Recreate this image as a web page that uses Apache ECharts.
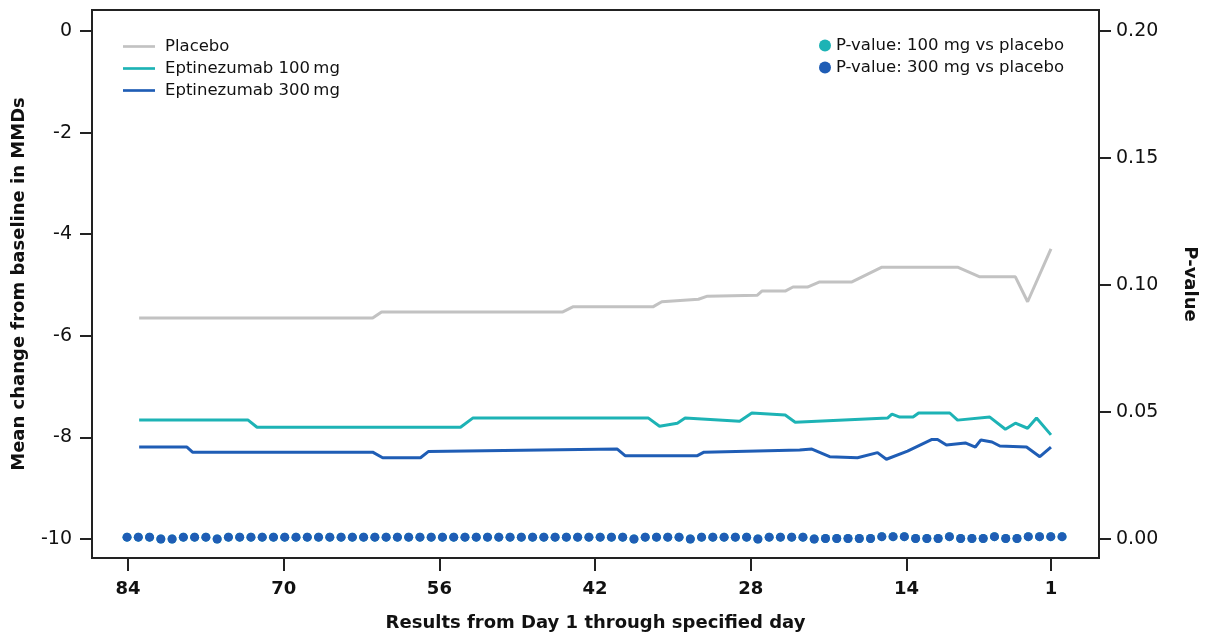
<!DOCTYPE html>
<html>
<head>
<meta charset="utf-8">
<script src="https://cdn.jsdelivr.net/npm/echarts@6/dist/echarts.min.js"></script>
<style>
  html, body { margin: 0; padding: 0; background: #fff; }
  #main { width: 1206px; height: 638px; }
</style>
</head>
<body>
<div id="main"></div>
<script>
// day on x axis, mean change in MMDs on left axis
var placeboDays = [83, 62, 61.2, 44.9, 44, 36.8, 36, 32.7, 31.9, 27.4, 27, 24.9, 24.2, 22.9, 21.8, 18.9, 16.2, 9.4, 7.4, 4.2, 3.1, 1];
var placeboVals = [-5.65, -5.65, -5.53, -5.53, -5.43, -5.43, -5.33, -5.28, -5.22, -5.2, -5.12, -5.12, -5.04, -5.04, -4.94, -4.94, -4.65, -4.65, -4.84, -4.84, -5.33, -4.29];

var mg100Days = [83, 73.2, 72.4, 54.1, 53, 37.2, 36.2, 34.6, 33.9, 29, 27.9, 24.9, 24, 15.7, 15.3, 14.6, 13.4, 12.9, 10.1, 9.4, 6.5, 5.1, 4.2, 3.1, 2.3, 1];
var mg100Vals = [-7.66, -7.66, -7.8, -7.8, -7.62, -7.62, -7.78, -7.72, -7.62, -7.68, -7.52, -7.56, -7.7, -7.62, -7.54, -7.6, -7.6, -7.52, -7.52, -7.66, -7.6, -7.84, -7.72, -7.82, -7.62, -7.95];

var mg300Days = [83, 78.7, 78.2, 62, 61.1, 57.7, 57, 40, 39.3, 32.8, 32.2, 23.6, 22.5, 20.9, 18.4, 16.6, 15.8, 13.9, 11.7, 11.2, 10.4, 8.7, 7.8, 7.3, 6.3, 5.6, 3.2, 2, 1];
var mg300Vals = [-8.19, -8.19, -8.29, -8.29, -8.4, -8.4, -8.28, -8.23, -8.36, -8.36, -8.29, -8.25, -8.23, -8.38, -8.4, -8.3, -8.43, -8.27, -8.04, -8.04, -8.15, -8.11, -8.19, -8.05, -8.09, -8.17, -8.19, -8.38, -8.19];

// p-values, day 84 down to day 1
var pDays = [84, 83, 82, 81, 80, 79, 78, 77, 76, 75, 74, 73, 72, 71, 70, 69, 68, 67, 66, 65, 64, 63, 62, 61, 60, 59, 58, 57, 56, 55, 54, 53, 52, 51, 50, 49, 48, 47, 46, 45, 44, 43, 42, 41, 40, 39, 38, 37, 36, 35, 34, 33, 32, 31, 30, 29, 28, 27, 26, 25, 24, 23, 22, 21, 20, 19, 18, 17, 16, 15, 14, 13, 12, 11, 10, 9, 8, 7, 6, 5, 4, 3, 2, 1];
var p100 = [0.0007, 0.0007, 0.0007, 0, 0, 0.0007, 0.0007, 0.0007, 0, 0.0007, 0.0007, 0.0007, 0.0007, 0.0007, 0.0007, 0.0007, 0.0007, 0.0007, 0.0007, 0.0007, 0.0007, 0.0007, 0.0007, 0.0007, 0.0007, 0.0007, 0.0007, 0.0007, 0.0007, 0.0007, 0.0007, 0.0007, 0.0007, 0.0007, 0.0007, 0.0007, 0.0007, 0.0007, 0.0007, 0.0007, 0.0007, 0.0007, 0.0007, 0.0007, 0.0007, 0, 0.0007, 0.0007, 0.0007, 0.0007, 0, 0.0007, 0.0007, 0.0007, 0.0007, 0.0007, 0, 0.0007, 0.0007, 0.0007, 0.0007, 0, 0.0002, 0.0002, 0.0002, 0.0002, 0.0002, 0.0009, 0.0009, 0.0009, 0.0002, 0.0002, 0.0002, 0.0009, 0.0002, 0.0002, 0.0002, 0.0009, 0.0002, 0.0002, 0.0009, 0.0009, 0.0009, 0.0009];
var p300 = [0.0007, 0.0007, 0.0007, 0, 0, 0.0007, 0.0007, 0.0007, 0, 0.0007, 0.0007, 0.0007, 0.0007, 0.0007, 0.0007, 0.0007, 0.0007, 0.0007, 0.0007, 0.0007, 0.0007, 0.0007, 0.0007, 0.0007, 0.0007, 0.0007, 0.0007, 0.0007, 0.0007, 0.0007, 0.0007, 0.0007, 0.0007, 0.0007, 0.0007, 0.0007, 0.0007, 0.0007, 0.0007, 0.0007, 0.0007, 0.0007, 0.0007, 0.0007, 0.0007, 0, 0.0007, 0.0007, 0.0007, 0.0007, 0, 0.0007, 0.0007, 0.0007, 0.0007, 0.0007, 0, 0.0007, 0.0007, 0.0007, 0.0007, 0, 0.0002, 0.0002, 0.0002, 0.0002, 0.0002, 0.0009, 0.0009, 0.0009, 0.0002, 0.0002, 0.0002, 0.0009, 0.0002, 0.0002, 0.0002, 0.0009, 0.0002, 0.0002, 0.0009, 0.0009, 0.0009, 0.0009];

var xTicks = [84, 70, 56, 42, 28, 14, 1];
var leftTicks = [0, -2, -4, -6, -8, -10];
var rightTicks = [0, 0.05, 0.1, 0.15, 0.2];

function pairs(xs, ys) {
  var out = [];
  for (var i = 0; i < xs.length; i++) out.push([xs[i], ys[i]]);
  return out;
}

var font = 'DejaVu Sans, Liberation Sans, Arial, sans-serif';
var lineIcon = 'path://M0,0 L36,0 L36,3 L0,3 Z';
var chart = echarts.init(document.getElementById('main'));
var option = {
  animation: false,
  textStyle: { fontFamily: font },
  grid: {
    left: 92, right: 107, top: 10, bottom: 80,
    outerBoundsMode: 'none', containLabel: false,
    show: true, borderColor: '#222', borderWidth: 2, backgroundColor: 'transparent'
  },
  legend: [
    {
      orient: 'vertical', left: 118, top: 33, itemGap: 5,
      itemWidth: 32, itemHeight: 12,
      textStyle: { fontSize: 16.5, color: '#111', fontFamily: font, padding: [0, 0, 0, 5] },
      data: [
        { name: 'Placebo', icon: lineIcon },
        { name: 'Eptinezumab 100\u2009mg', icon: lineIcon },
        { name: 'Eptinezumab 300\u2009mg', icon: lineIcon }
      ]
    },
    {
      orient: 'vertical', left: 814, top: 32, itemGap: 5,
      itemWidth: 12, itemHeight: 12,
      textStyle: { fontSize: 16.5, color: '#111', fontFamily: font },
      data: [
        { name: 'P-value: 100 mg vs placebo', icon: 'circle' },
        { name: 'P-value: 300 mg vs placebo', icon: 'circle' }
      ]
    }
  ],
  xAxis: [
    {
      type: 'value', inverse: true, min: -3.32, max: 87.24,
      name: 'Results from Day 1 through specified day',
      nameLocation: 'middle', nameGap: 56,
      nameTextStyle: { fontSize: 18, fontWeight: 'bold', color: '#111' },
      axisLine: { show: false, onZero: false },
      splitLine: { show: false },
      axisTick: { show: true, length: 13, lineStyle: { color: '#222', width: 2 }, customValues: xTicks },
      axisLabel: { fontSize: 18, fontWeight: 'bold', color: '#111', margin: 22, customValues: xTicks }
    },
    {
      type: 'value', inverse: true, min: -2.28, max: 87.11, show: false,
      axisLine: { onZero: false }
    }
  ],
  yAxis: [
    {
      type: 'value', min: -10.374, max: 0.413, position: 'left',
      name: 'Mean change from baseline in MMDs',
      nameLocation: 'middle', nameGap: 64,
      nameTextStyle: { fontSize: 18, fontWeight: 'bold', color: '#111' },
      axisLine: { show: false, onZero: false },
      splitLine: { show: false },
      axisTick: { show: true, length: 12, lineStyle: { color: '#222', width: 2 }, customValues: leftTicks },
      axisLabel: { fontSize: 19, color: '#111', margin: 20, customValues: leftTicks }
    },
    {
      type: 'value', min: -0.0075, max: 0.2083, position: 'right',
      name: 'P-value',
      nameLocation: 'middle', nameGap: 82, nameRotate: -90,
      nameTextStyle: { fontSize: 18, fontWeight: 'bold', color: '#111' },
      axisLine: { show: false, onZero: false },
      splitLine: { show: false },
      axisTick: { show: true, length: 12, lineStyle: { color: '#222', width: 2 }, customValues: rightTicks },
      axisLabel: { fontSize: 19, color: '#111', margin: 17, customValues: rightTicks,
        formatter: function (v) { return v.toFixed(2); } }
    }
  ],
  series: [
    {
      name: 'Placebo', type: 'line', symbol: 'none',
      lineStyle: { color: '#c2c2c2', width: 3 }, itemStyle: { color: '#c2c2c2' },
      data: pairs(placeboDays, placeboVals)
    },
    {
      name: 'Eptinezumab 100\u2009mg', type: 'line', symbol: 'none',
      lineStyle: { color: '#1db3b5', width: 3 }, itemStyle: { color: '#1db3b5' },
      data: pairs(mg100Days, mg100Vals)
    },
    {
      name: 'Eptinezumab 300\u2009mg', type: 'line', symbol: 'none',
      lineStyle: { color: '#1f5db5', width: 3 }, itemStyle: { color: '#1f5db5' },
      data: pairs(mg300Days, mg300Vals)
    },
    {
      name: 'P-value: 100 mg vs placebo', type: 'scatter', xAxisIndex: 1, yAxisIndex: 1,
      symbolSize: 9, itemStyle: { color: '#1db3b5', opacity: 1 },
      data: pairs(pDays, p100)
    },
    {
      name: 'P-value: 300 mg vs placebo', type: 'scatter', xAxisIndex: 1, yAxisIndex: 1,
      symbolSize: 9, itemStyle: { color: '#1f5db5', opacity: 1 },
      data: pairs(pDays, p300)
    }
  ]
};
chart.setOption(option);
</script>
</body>
</html>
